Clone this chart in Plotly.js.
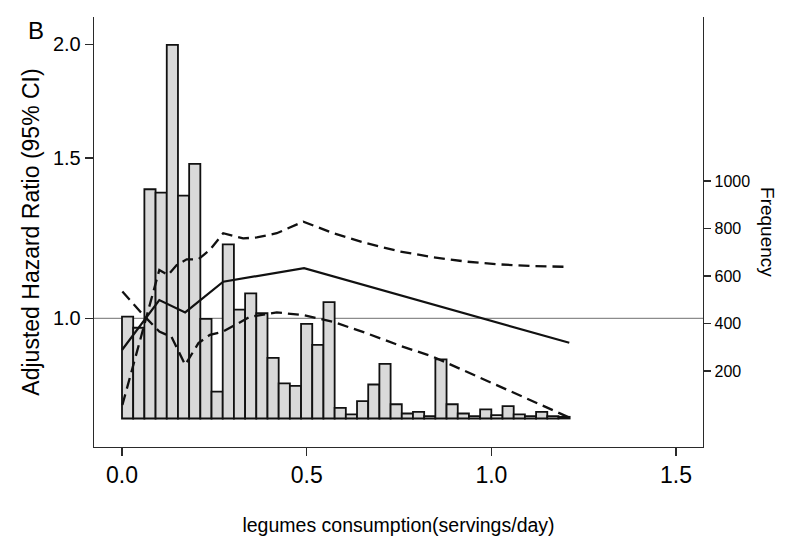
<!DOCTYPE html>
<html>
<head>
<meta charset="utf-8">
<script src="https://cdn.plot.ly/plotly-3.0.1.min.js"></script>
<style>html,body{margin:0;padding:0;background:#fff;}#chart{width:800px;height:552px;}</style>
</head>
<body>
<div id="chart"></div>
<script>
// Histogram of legumes consumption (servings/day), 40 bins
const binStart = 0;
const binWidth = 0.0303;
const frequency = [429, 382, 965, 951, 1573, 938, 1072, 419, 113, 733,
                   458, 527, 443, 255, 148, 137, 398, 310, 490, 45,
                   17, 73, 143, 230, 60, 21, 28, 10, 249, 60,
                   21, 10, 38, 14, 52, 17, 10, 28, 10, 7];

// Adjusted hazard ratio (solid) and 95% CI (dashed)
const hrX = [0, 0.101, 0.171, 0.274, 0.493, 1.211];
const hrY = [0.923, 1.047, 1.015, 1.097, 1.135, 0.940];

const ciAX = [0.001, 0.058, 0.101, 0.125, 0.148, 0.175, 0.207, 0.238, 0.274, 0.328, 0.365, 0.419, 0.455, 0.491, 0.572, 0.662, 0.753, 0.843, 0.933, 1.023, 1.114, 1.211];
const ciAY = [0.803, 0.979, 1.130, 1.116, 1.144, 1.161, 1.161, 1.189, 1.240, 1.224, 1.227, 1.240, 1.259, 1.277, 1.240, 1.209, 1.184, 1.167, 1.154, 1.146, 1.141, 1.139];

const ciBX = [0.001, 0.058, 0.101, 0.134, 0.171, 0.207, 0.238, 0.274, 0.347, 0.419, 0.491, 0.572, 0.662, 0.753, 0.843, 0.933, 1.023, 1.114, 1.211];
const ciBY = [1.070, 1.008, 0.967, 0.954, 0.889, 0.939, 0.959, 0.967, 1.004, 1.015, 1.008, 0.991, 0.963, 0.933, 0.907, 0.874, 0.841, 0.810, 0.778];

const xTicks = [0, 0.5, 1.0, 1.5];
const xTickText = ['0.0', '0.5', '1.0', '1.5'];
const hrTicks = [1.0, 1.5, 2.0];
const hrTickText = ['1.0', '1.5', '2.0'];
const freqTicks = [200, 400, 600, 800, 1000];

const binCenters = frequency.map((_, i) => binStart + binWidth * (i + 0.5));

const FONT = 'Liberation Sans, Arial, Helvetica, sans-serif';
const AX = '#2a2a2a';

const traces = [
  {
    type: 'bar', x: binCenters, y: frequency, width: binWidth,
    xaxis: 'x', yaxis: 'y',
    marker: {color: '#d9d9d9', line: {color: '#111', width: 1.8}},
    hoverinfo: 'x+y', showlegend: false
  },
  {
    type: 'scatter', mode: 'lines', x: ciAX, y: ciAY, xaxis: 'x', yaxis: 'y2',
    line: {color: '#111', width: 2.3, dash: '11px,6px'}, showlegend: false
  },
  {
    type: 'scatter', mode: 'lines', x: ciBX, y: ciBY, xaxis: 'x', yaxis: 'y2',
    line: {color: '#111', width: 2.3, dash: '11px,6px'}, showlegend: false
  },
  {
    type: 'scatter', mode: 'lines', x: hrX, y: hrY, xaxis: 'x', yaxis: 'y2',
    line: {color: '#111', width: 2.2}, showlegend: false
  }
];

const layout = {
  width: 800, height: 552,
  margin: {l: 94, r: 97, t: 17, b: 105},
  paper_bgcolor: '#fff', plot_bgcolor: 'rgba(0,0,0,0)',
  font: {family: FONT, color: '#000'},
  showlegend: false,
  xaxis: {
    range: [-0.0758, 1.573], tickvals: xTicks, ticktext: xTickText,
    ticks: 'outside', ticklen: 8, tickcolor: AX, tickwidth: 1.3,
    tickfont: {size: 23, color: '#000'}, ticklabelstandoff: -1,
    showline: true, linecolor: AX, linewidth: 1.3,
    showgrid: false, zeroline: false,
    title: {text: 'legumes consumption(servings/day)', font: {size: 19.5, color: '#000'}, standoff: 31}
  },
  yaxis: {
    side: 'right', range: [-120, 1690], tickvals: freqTicks,
    ticks: 'outside', ticklen: 7, tickcolor: AX, tickwidth: 1.3,
    tickfont: {size: 16, color: '#000'},
    showline: true, linecolor: AX, linewidth: 1.3,
    showgrid: false, zeroline: false
  },
  yaxis2: {
    overlaying: 'y', side: 'left', type: 'log', anchor: 'x',
    range: [-0.1414, 0.331], tickvals: hrTicks, ticktext: hrTickText,
    ticks: 'outside', ticklen: 8, tickcolor: AX, tickwidth: 1.3,
    tickfont: {size: 20, color: '#000'},
    showline: true, linecolor: AX, linewidth: 1.3,
    showgrid: false, zeroline: false,
    title: {text: 'Adjusted Hazard Ratio (95% CI)', font: {size: 23, color: '#000'}, standoff: 6}
  },
  shapes: [
    {type: 'line', xref: 'paper', x0: 0, x1: 1, yref: 'y2', y0: 1, y1: 1,
     line: {color: '#8c8c8c', width: 1.3}, layer: 'below'}
  ],
  annotations: [
    {text: 'B', xref: 'paper', yref: 'paper', x: -0.095, y: 0.9686,
     xanchor: 'center', yanchor: 'middle', showarrow: false, font: {size: 24, color: '#000'}},
    {text: 'Frequency', xref: 'paper', yref: 'paper', x: 1.1067, y: 0.5,
     xanchor: 'center', yanchor: 'middle', textangle: 90, showarrow: false, font: {size: 19, color: '#000'}}
  ]
};

Plotly.newPlot('chart', traces, layout, {staticPlot: true, displayModeBar: false});
</script>
</body>
</html>
